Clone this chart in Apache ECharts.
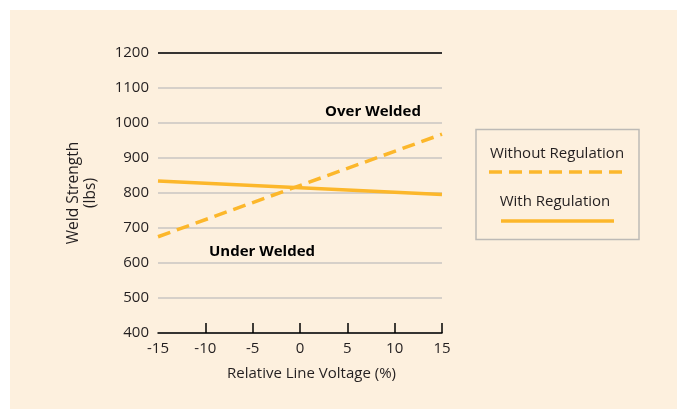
<!DOCTYPE html>
<html>
<head>
<meta charset="utf-8">
<script src="https://cdn.jsdelivr.net/npm/echarts@6/dist/echarts.min.js"></script>
<style>
  html, body { margin: 0; padding: 0; background: #fff; }
  #chart {
    width: 677px; height: 409px;
    background: linear-gradient(#fdf0de, #fdf0de) no-repeat 10px 10px / 667px 399px, #fff;
  }
</style>
</head>
<body>
<div id="chart"></div>
<script>
// ---- data ----
const voltage = [-15, 15];
const withoutRegulation = [675, 968];
const withRegulation = [834, 796];
const seriesNames = ['Without Regulation', 'With Regulation'];
const xTickValues = [-15, -10, -5, 0, 5, 10, 15];
const xTickMarks = [-10, -5, 0, 5, 10, 15];
const yMin = 400, yMax = 1200, yStep = 100;
const annotations = ['Over Welded', 'Under Welded'];
const xTitle = 'Relative Line Voltage (%)';
const yTitle = 'Weld Strength\n(lbs)';

const FONT = '"Open Sans", sans-serif';
const FS = 15;
const INK = '#231f20';
const ORANGE = '#fcb72b';

const chart = echarts.init(document.getElementById('chart'), null, { renderer: 'canvas' });

const option = {
  animation: false,
  backgroundColor: 'transparent',
  textStyle: { fontFamily: FONT, color: INK },
  grid: { left: 158, right: 235, top: 53, bottom: 76, containLabel: false },
  xAxis: {
    type: 'value',
    min: -15, max: 15, interval: 5,
    name: xTitle,
    nameLocation: 'middle',
    nameGap: 33,
    nameTextStyle: { fontFamily: FONT, fontSize: FS, color: INK, padding: [0, 0, 0, 23] },
    axisLine: { show: true, onZero: false, lineStyle: { color: '#000', width: 1.5 } },
    axisTick: { show: true, inside: true, length: 10, customValues: xTickMarks, lineStyle: { color: '#000', width: 1.5 } },
    axisLabel: { customValues: xTickValues, fontFamily: FONT, fontSize: FS, color: INK, margin: 8, showMinLabel: true, showMaxLabel: true },
    splitLine: { show: false }
  },
  yAxis: {
    type: 'value',
    min: yMin, max: yMax, interval: yStep,
    name: yTitle,
    nameLocation: 'middle',
    nameGap: 59,
    nameRotate: 90,
    nameTextStyle: { fontFamily: FONT, fontSize: 15.5, color: INK, lineHeight: 17, align: 'center' },
    axisLine: { show: false },
    axisTick: { show: false },
    axisLabel: { fontFamily: FONT, fontSize: FS, color: INK, margin: 9, formatter: v => String(v) },
    splitLine: { show: true, lineStyle: { color: '#c9c6c2', width: 1.5 } }
  },
  series: [
    {
      name: seriesNames[0],
      type: 'line',
      data: voltage.map((v, i) => [v, withoutRegulation[i]]),
      symbol: 'none',
      lineStyle: { color: ORANGE, width: 3.5, type: [13, 7] },
      z: 5,
      markLine: {
        silent: true,
        symbol: 'none',
        label: { show: false },
        lineStyle: { color: '#000', width: 1.5, type: 'solid' },
        data: [{ yAxis: yMax }]
      }
    },
    {
      name: seriesNames[1],
      type: 'line',
      data: voltage.map((v, i) => [v, withRegulation[i]]),
      symbol: 'none',
      lineStyle: { color: ORANGE, width: 3.5, type: 'solid' },
      z: 4
    }
  ],
  graphic: [
    { type: 'text', style: { text: annotations[0], font: 'bold ' + FS + 'px ' + FONT, fill: '#000', textAlign: 'center', textVerticalAlign: 'middle', x: 373, y: 112 } },
    { type: 'text', style: { text: annotations[1], font: 'bold ' + FS + 'px ' + FONT, fill: '#000', textAlign: 'center', textVerticalAlign: 'middle', x: 262, y: 252 } },
    { type: 'rect', shape: { x: 476, y: 129.5, width: 163, height: 110 }, style: { fill: 'none', stroke: '#bdbab6', lineWidth: 1.5 } },
    { type: 'text', style: { text: seriesNames[0], font: FS + 'px ' + FONT, fill: INK, textAlign: 'center', textVerticalAlign: 'middle', x: 557, y: 154 } },
    { type: 'line', shape: { x1: 489, y1: 172, x2: 624, y2: 172 }, style: { stroke: ORANGE, lineWidth: 3.5, lineDash: [13, 7] } },
    { type: 'text', style: { text: seriesNames[1], font: FS + 'px ' + FONT, fill: INK, textAlign: 'center', textVerticalAlign: 'middle', x: 555, y: 202 } },
    { type: 'line', shape: { x1: 501, y1: 221, x2: 614, y2: 221 }, style: { stroke: ORANGE, lineWidth: 3.5 } }
  ]
};

chart.setOption(option);
</script>
</body>
</html>
